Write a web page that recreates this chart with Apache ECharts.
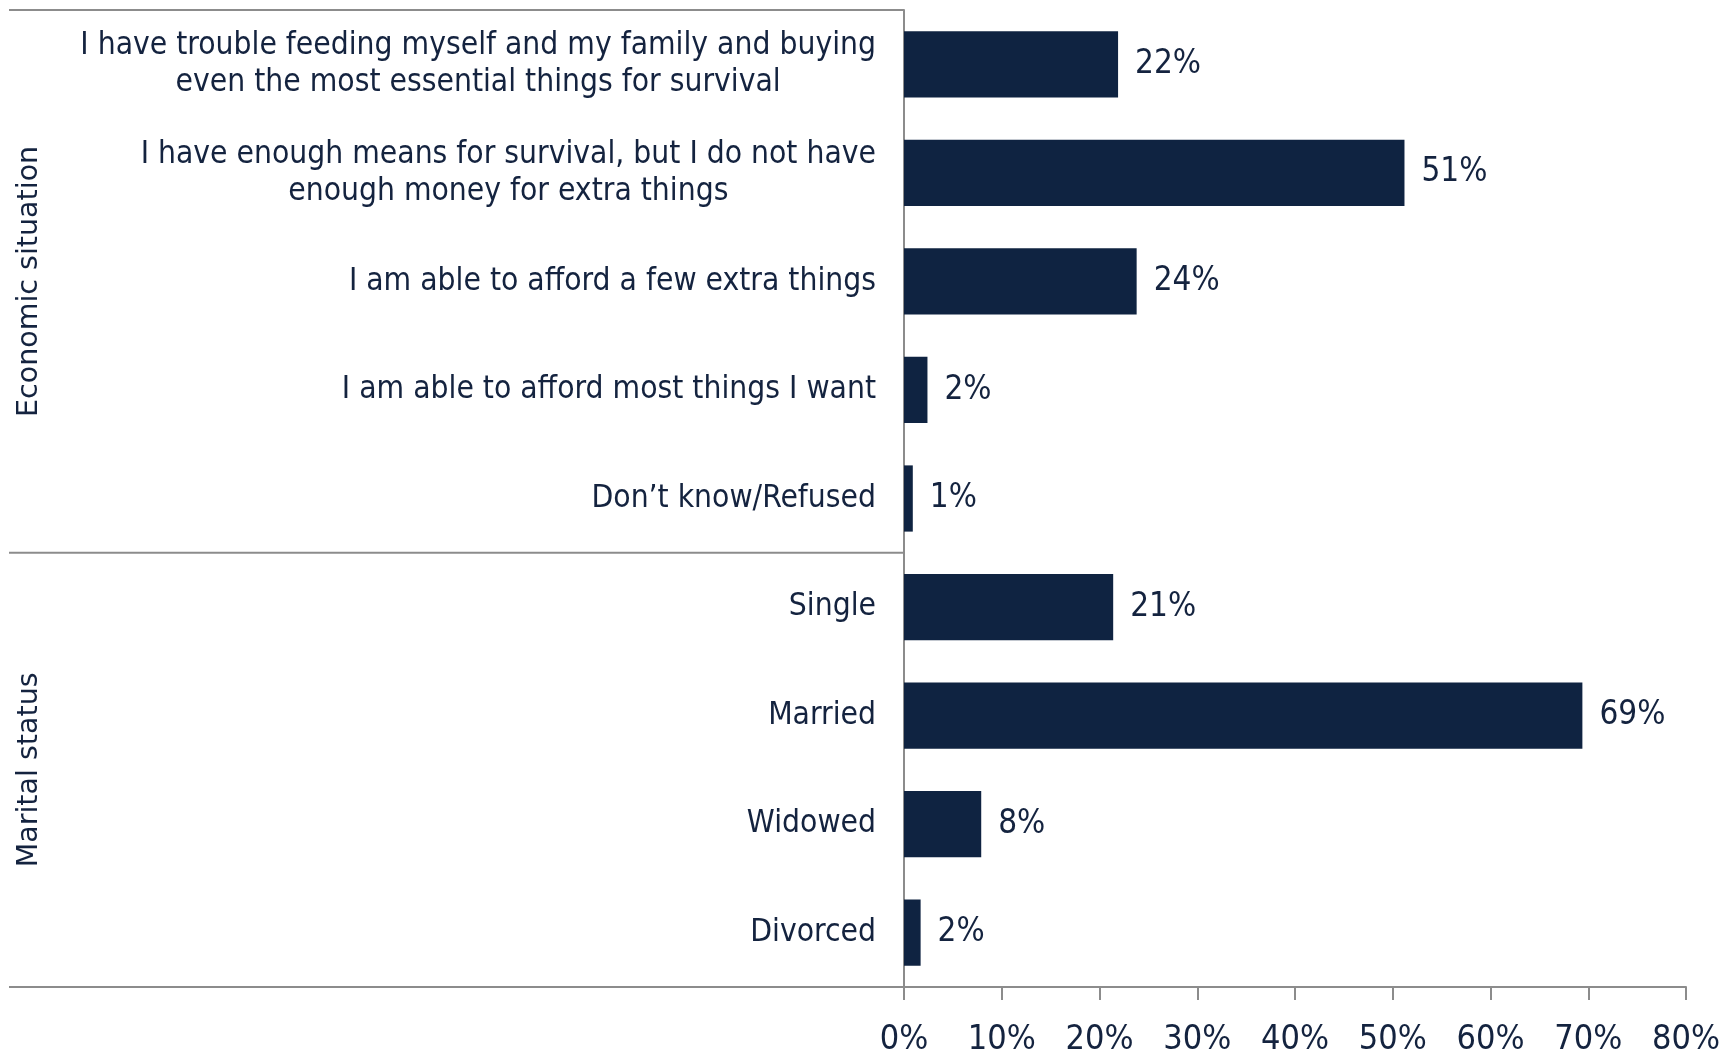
<!DOCTYPE html>
<html><head><meta charset="utf-8">
<script src="https://cdn.jsdelivr.net/npm/echarts@6/dist/echarts.min.js"></script>
<style>html,body{margin:0;padding:0;background:#fff}#c{width:1725px;height:1057px}</style>
</head><body><div id="c"></div>
<script>
const categories = [
  'I have trouble feeding myself and my family and buying\neven the most essential things for survival',
  'I have enough means for survival, but I do not have\nenough money for extra things',
  'I am able to afford a few extra things',
  'I am able to afford most things I want',
  'Don\u2019t know/Refused',
  'Single', 'Married', 'Widowed', 'Divorced'
];
const values = [21.9, 51.2, 23.8, 2.4, 0.9, 21.4, 69.4, 7.9, 1.7];
const valueLabels = ['22%', '51%', '24%', '2%', '1%', '21%', '69%', '8%', '2%'];
const groupNames = ['Economic situation', 'Marital status'];
const groupSizes = [5, 4];
const xTicks = [0, 10, 20, 30, 40, 50, 60, 70, 80];

const FONT = "'Liberation Sans Narrow', 'DejaVu Sans Condensed', 'Liberation Sans', sans-serif";
const TEXT = '#14233f';
const BAR = '#0f2341';
const LINE = '#8c8c8c';

const chart = echarts.init(document.getElementById('c'), null, {renderer: 'canvas'});
chart.setOption({
  animation: false,
  backgroundColor: '#fff',
  grid: {left: 904, right: 39, top: 10, bottom: 68, containLabel: false},
  xAxis: {
    type: 'value', min: xTicks[0], max: xTicks[xTicks.length - 1], interval: 10,
    axisLine: {show: true, lineStyle: {color: LINE, width: 2}},
    axisTick: {show: true, length: 13, lineStyle: {color: LINE, width: 2}},
    splitLine: {show: false},
    axisLabel: {formatter: v => v + '%', fontFamily: FONT, fontSize: 34, color: TEXT, margin: 36}
  },
  yAxis: {
    type: 'category', inverse: true, data: categories,
    axisLine: {show: true, lineStyle: {color: LINE, width: 2}},
    axisTick: {show: false},
    axisLabel: {
      margin: 28, fontFamily: FONT, fontSize: 31.5, color: TEXT, lineHeight: 37,
      formatter: v => v.split('\n').map(s => '{c|' + s + '}').join('\n'),
      rich: {c: {align: 'center', fontFamily: FONT, fontSize: 31.5, color: TEXT, lineHeight: 37}}
    }
  },
  series: [{
    type: 'bar', data: values, barCategoryGap: '39%',
    itemStyle: {color: BAR},
    label: {show: true, position: 'right', distance: 17, fontFamily: FONT, fontSize: 33, color: TEXT,
      formatter: p => valueLabels[p.dataIndex]}
  }]
});

function decorate() {
  const y0 = chart.convertToPixel({yAxisIndex: 0}, 0);
  const y1 = chart.convertToPixel({yAxisIndex: 0}, 1);
  const band = y1 - y0;
  const xAxisPx = chart.convertToPixel({xAxisIndex: 0}, 0);
  const leftX = 9;
  const els = [];
  let start = 0;
  const bounds = [y0 - band / 2];
  groupSizes.forEach((n, gi) => {
    const top = chart.convertToPixel({yAxisIndex: 0}, start) - band / 2;
    const bot = chart.convertToPixel({yAxisIndex: 0}, start + n - 1) + band / 2;
    bounds.push(bot);
    els.push({
      type: 'text', x: 30, y: (top + bot) / 2, rotation: Math.PI / 2,
      style: {text: groupNames[gi], fontFamily: "'DejaVu Sans', sans-serif", fontSize: 28.5, fill: TEXT,
        align: 'center', verticalAlign: 'middle'}
    });
    start += n;
  });
  bounds.forEach(b => {
    els.push({type: 'line', shape: {x1: leftX, y1: b, x2: xAxisPx, y2: b},
      style: {stroke: LINE, lineWidth: 2}});
  });
  chart.setOption({graphic: els});
}
decorate();
</script>
</body></html>
